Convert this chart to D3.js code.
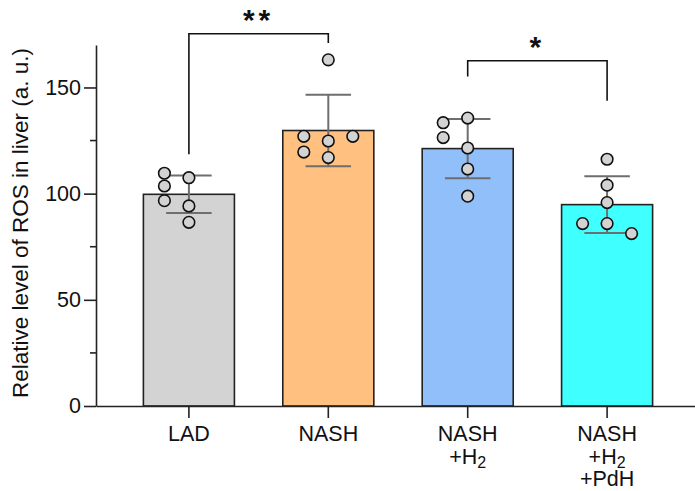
<!DOCTYPE html>
<html>
<head>
<meta charset="utf-8">
<script src="https://cdn.jsdelivr.net/npm/d3@7"></script>
<style>
    body { margin: 0; background: #fff; }
    text { font-family: "Liberation Sans", Arial, sans-serif; }
</style>
</head>
<body>
<div id="chart"></div>
<script>
// groups and their labels (use "_" for a subscript)
var groups = ["LAD", "NASH", "NASH+H2", "NASH+H2+PdH"];
var groupLabels = [["LAD"], ["NASH"], ["NASH", "+H_2"], ["NASH", "+H_2", "+PdH"]];
var groupColors = ["#d3d3d3", "#ffc080", "#91bffa", "#40ffff"];

// individual measurements per group
var ladValues = [107.5, 109.6, 103.6, 94.2, 96.7, 86.5];
var nashValues = [163.0, 124.8, 127.0, 127.0, 119.6, 117.0];
var nashH2Values = [135.6, 133.4, 121.5, 126.4, 111.6, 98.8];
var nashH2PdhValues = [116.2, 104.0, 95.8, 85.9, 85.9, 81.2];

var yTicks = [0, 50, 100, 150];
var yMinorTicks = [25, 75, 125];
var yTitle = "Relative level of ROS in liver (a. u.)";

// significance brackets
var sigPairs = [[0, 1], [2, 3]];
var sigLabels = ["**", "*"];
var sigLevels = [175.3, 162.6];
var sigLegEnds = [[118.5, 171], [155.2, 143.8]];

function init() {
    var w = 695,
        h = 491;

    var svg = d3
        .select("#chart")
        .append("svg")
        .attr("width", w)
        .attr("height", h);

    var data = [ladValues, nashValues, nashH2Values, nashH2PdhValues].map(function (vals, i) {
        return {
            group: groups[i],
            values: vals,
            mean: d3.mean(vals),
            sd: d3.deviation(vals)
        };
    });

    var xScale = d3
        .scaleBand()
        .domain(groups)
        .range([96, 700])
        .paddingInner(0.347)
        .paddingOuter(0.34);

    var yScale = d3
        .scaleLinear()
        .domain([0, 170])
        .range([406, 45]);

    var bw = xScale.bandwidth();
    var cx = d => xScale(d) + bw / 2;

    // bars
    svg.append("g")
        .selectAll("rect")
        .data(data)
        .enter()
        .append("rect")
        .attr("x", d => xScale(d.group))
        .attr("y", d => yScale(d.mean))
        .attr("width", bw)
        .attr("height", d => yScale(0) - yScale(d.mean))
        .attr("fill", (d, i) => groupColors[i])
        .attr("stroke", "#222")
        .attr("stroke-width", 1.6);

    // error bars (mean +/- SD)
    var err = svg.append("g")
        .attr("stroke", "#6e6e6e")
        .attr("stroke-width", 2)
        .selectAll("g")
        .data(data)
        .enter()
        .append("g");

    err.append("line")
        .attr("x1", d => cx(d.group))
        .attr("x2", d => cx(d.group))
        .attr("y1", d => yScale(d.mean - d.sd))
        .attr("y2", d => yScale(d.mean + d.sd));

    [-1, 1].forEach(function (s) {
        err.append("line")
            .attr("x1", d => cx(d.group) - bw / 4)
            .attr("x2", d => cx(d.group) + bw / 4)
            .attr("y1", d => yScale(d.mean + s * d.sd))
            .attr("y2", d => yScale(d.mean + s * d.sd));
    });

    // points, spread sideways when they would overlap
    var r = 5.8,
        step = 24.5,
        minGap = 12.5;
    var points = [];
    data.forEach(function (d) {
        var placed = [];
        d.values.forEach(function (v) {
            var py = yScale(v);
            var cols = [0, -1, 1, -2, 2];
            for (var k = 0; k < cols.length; k++) {
                var c = cols[k];
                var hit = placed.some(p => p.col === c && Math.abs(p.y - py) < minGap);
                if (!hit) {
                    placed.push({ col: c, y: py });
                    points.push({ x: cx(d.group) + c * step, y: py });
                    break;
                }
            }
        });
    });

    svg.append("g")
        .selectAll("circle")
        .data(points)
        .enter()
        .append("circle")
        .attr("cx", d => d.x)
        .attr("cy", d => d.y)
        .attr("r", r)
        .attr("fill", "#d3d3d3")
        .attr("stroke", "#111")
        .attr("stroke-width", 1.6);

    // y axis
    var yAxis = svg.append("g")
        .attr("transform", "translate(96,0)")
        .call(d3.axisLeft(yScale).tickValues(yTicks).tickSize(12).tickSizeOuter(0).tickPadding(3));
    yAxis.select(".domain").attr("stroke", "#222").attr("stroke-width", 1.6);
    yAxis.selectAll(".tick line").attr("stroke", "#222").attr("stroke-width", 1.6);
    yAxis.selectAll("text")
        .attr("font-size", "21.5px")
        .attr("fill", "#111")
        .style("font-family", "'Liberation Sans', Arial, sans-serif");

    svg.append("g")
        .selectAll("line")
        .data(yMinorTicks)
        .enter()
        .append("line")
        .attr("x1", 90)
        .attr("x2", 96)
        .attr("y1", d => yScale(d))
        .attr("y2", d => yScale(d))
        .attr("stroke", "#222")
        .attr("stroke-width", 1.6);

    // x axis
    var xAxis = svg.append("g")
        .attr("transform", "translate(0," + yScale(0) + ")")
        .call(d3.axisBottom(xScale).tickSize(12).tickSizeOuter(0).tickFormat(""));
    xAxis.select(".domain").attr("stroke", "#222").attr("stroke-width", 1.6);
    xAxis.selectAll(".tick line").attr("stroke", "#222").attr("stroke-width", 1.6);

    var labels = svg.append("g")
        .selectAll("text")
        .data(groups)
        .enter()
        .append("text")
        .attr("text-anchor", "middle")
        .attr("font-size", "21.5px")
        .attr("fill", "#111");

    labels.each(function (g, i) {
        var t = d3.select(this);
        groupLabels[i].forEach(function (line, j) {
            var parts = line.split("_");
            t.append("tspan")
                .attr("x", cx(g))
                .attr("y", 441 + j * 22.5)
                .text(parts[0]);
            if (parts[1]) {
                t.append("tspan")
                    .attr("dy", 4)
                    .attr("font-size", "16px")
                    .text(parts[1]);
            }
        });
    });

    // y title
    svg.append("text")
        .attr("transform", "translate(27.5,223) rotate(-90)")
        .attr("text-anchor", "middle")
        .attr("font-size", "22.5px")
        .attr("fill", "#111")
        .text(yTitle);

    // significance brackets
    sigPairs.forEach(function (p, i) {
        var x1 = cx(groups[p[0]]),
            x2 = cx(groups[p[1]]),
            y = yScale(sigLevels[i]);
        svg.append("path")
            .attr("d", "M" + x1 + "," + yScale(sigLegEnds[i][0]) + "V" + y + "H" + x2 + "V" + yScale(sigLegEnds[i][1]))
            .attr("fill", "none")
            .attr("stroke", "#111")
            .attr("stroke-width", 1.6);
        svg.append("text")
            .attr("x", (x1 + x2) / 2)
            .attr("y", y - 4)
            .attr("text-anchor", "middle")
            .attr("font-size", "30px")
            .attr("font-weight", "bold")
            .attr("letter-spacing", "4px")
            .attr("fill", "#111")
            .text(sigLabels[i]);
    });
}

window.onload = init;
</script>
</body>
</html>
